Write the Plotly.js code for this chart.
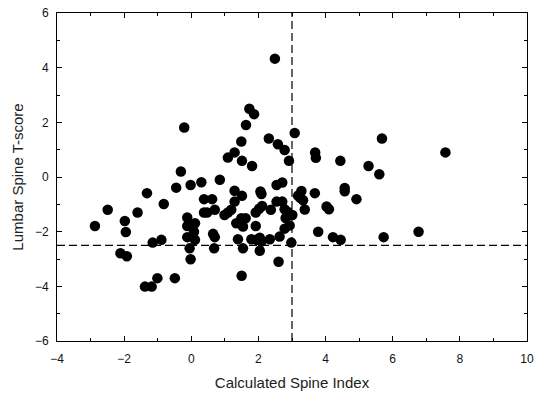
<!DOCTYPE html>
<html>
<head>
<meta charset="utf-8">
<script src="https://cdn.plot.ly/plotly-3.0.1.min.js"></script>
<style>
html,body{margin:0;padding:0;background:#fff;}
#chart{width:535px;height:396px;}
</style>
</head>
<body>
<div id="chart"></div>
<script>
const spineIndex = [
  2.49, 1.73, 1.87, 1.63, -0.21, 3.08, 2.31, 1.49, 2.58, 2.78,
  1.29, 1.09, 1.51, 2.91, 1.81, -0.31, 5.68, 3.69, 3.71, 4.44,
  5.28, 5.60, 7.57, 0.30, 0.85, -0.02, 2.54, 2.71, 4.57, 4.57,
  3.28, 3.68, 3.18, 3.25, 3.33, 4.92, 2.54, 2.71, 4.03, 4.10,
  3.38, 2.78, 2.88, 3.01, 2.81, 2.93, 2.78, 3.78, 4.22, 4.45,
  5.73, 6.77, 2.63, 2.98, 2.60, -0.45, -1.32, -0.82, -2.49, -1.60,
  -2.87, -1.98, -1.95, -1.15, -0.89, -2.11, -1.92, -1.01, -0.49, -1.38,
  -1.18, -0.02, -0.05, -0.12, -0.12, 0.11, 0.08, -0.12, 0.11, 0.38,
  0.62, 0.38, 0.47, 0.70, 0.65, 0.70, 0.68, 1.29, 1.51, 1.29,
  0.99, 1.09, 1.19, 1.34, 1.49, 1.62, 1.54, 1.39, 1.54, 1.50,
  2.06, 2.09, 1.92, 2.02, 2.11, 2.37, 1.92, 1.79, 1.94, 2.04,
  2.09, 2.34, 2.04
];
const tScore = [
  4.33, 2.50, 2.30, 1.90, 1.81, 1.61, 1.41, 1.30, 1.20, 0.99,
  0.90, 0.71, 0.59, 0.59, 0.40, 0.20, 1.41, 0.90, 0.70, 0.59,
  0.40, 0.10, 0.90, -0.19, -0.10, -0.29, -0.29, -0.20, -0.40, -0.52,
  -0.51, -0.59, -0.68, -0.77, -0.85, -0.81, -0.90, -0.90, -1.08, -1.18,
  -1.19, -1.18, -1.28, -1.39, -1.50, -1.77, -1.89, -2.00, -2.20, -2.30,
  -2.20, -2.00, -2.18, -2.40, -3.10, -0.39, -0.59, -0.99, -1.20, -1.30,
  -1.79, -1.61, -2.01, -2.40, -2.30, -2.79, -2.90, -3.70, -3.70, -4.01,
  -4.01, -3.01, -2.61, -1.48, -1.79, -1.69, -2.00, -2.20, -2.30, -0.81,
  -0.81, -1.30, -1.30, -1.20, -2.08, -2.20, -2.61, -0.50, -0.69, -0.90,
  -1.39, -1.30, -1.20, -1.69, -1.51, -1.51, -1.81, -2.28, -2.61, -3.61,
  -0.53, -0.62, -1.30, -1.16, -1.06, -1.20, -1.79, -2.28, -2.30, -2.22,
  -2.36, -2.28, -2.70
];
const xCutoff = 3;
const yCutoff = -2.5;
const xRange = [-4, 10];
const yRange = [-6, 6];

const axisCommon = {
  showline: true, linecolor: '#000', linewidth: 1, mirror: 'ticks',
  ticks: 'inside', ticklen: 5, tickcolor: '#000', tickwidth: 1,
  showgrid: false, zeroline: false,
  tickfont: {family: 'Liberation Sans, Arial, sans-serif', size: 12, color: '#111'},
  minor: {ticks: 'inside', ticklen: 3, tickcolor: '#000', dtick: 1, showgrid: false}
};

const trace = {
  x: spineIndex, y: tScore, type: 'scatter', mode: 'markers',
  marker: {color: '#000', size: 10.5, line: {width: 0}},
  hoverinfo: 'x+y'
};

const layout = {
  width: 535, height: 396,
  margin: {l: 57, r: 8, t: 13, b: 55},
  paper_bgcolor: '#fff', plot_bgcolor: '#fff',
  showlegend: false,
  font: {family: 'Liberation Sans, Arial, sans-serif', color: '#000'},
  xaxis: Object.assign({}, axisCommon, {
    range: xRange, dtick: 2, tick0: -4, ticklabelstandoff: 7,
    title: {text: 'Calculated Spine Index', font: {size: 15, color: '#222'}, standoff: 12}
  }),
  yaxis: Object.assign({}, axisCommon, {
    range: yRange, dtick: 2, tick0: -6, ticklabelstandoff: 5,
    title: {text: 'Lumbar Spine T-score', font: {size: 15, color: '#222'}, standoff: 7}
  }),
  shapes: [
    {type: 'line', xref: 'x', yref: 'paper', x0: xCutoff, x1: xCutoff, y0: 0, y1: 1,
     line: {color: '#000', width: 1.2, dash: '8px,4px'}, layer: 'below'},
    {type: 'line', xref: 'paper', yref: 'y', x0: 0, x1: 1, y0: yCutoff, y1: yCutoff,
     line: {color: '#000', width: 1.2, dash: '8px,4px'}, layer: 'below'}
  ]
};

Plotly.newPlot('chart', [trace], layout, {staticPlot: true, displayModeBar: false});
</script>
</body>
</html>
